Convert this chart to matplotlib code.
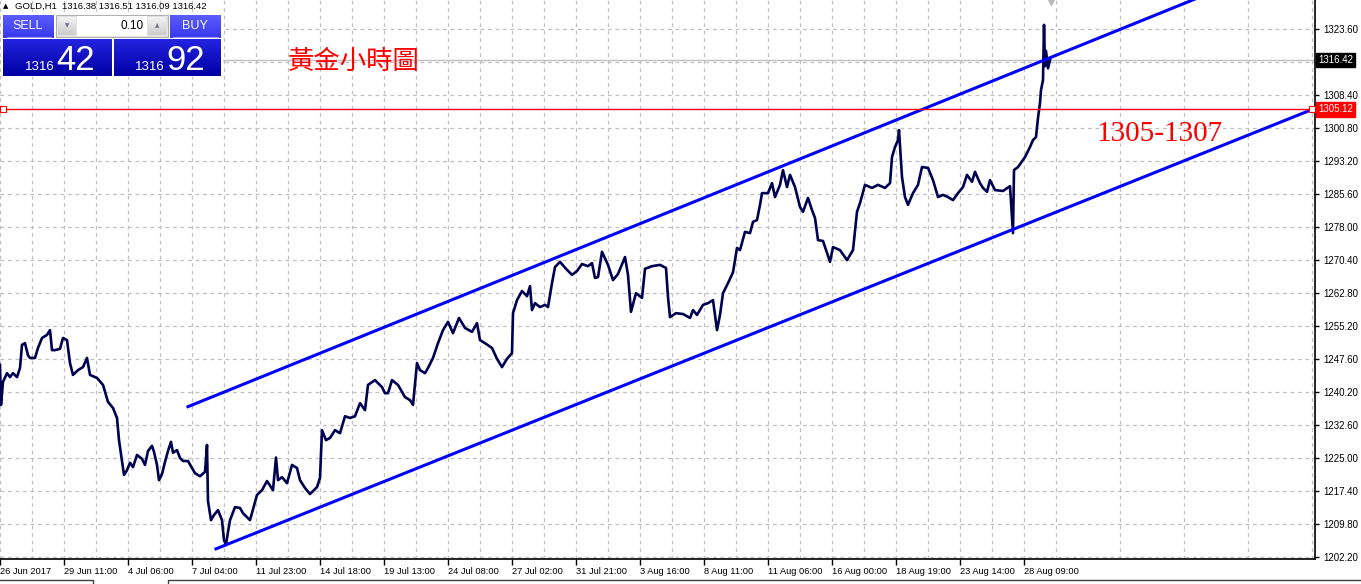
import numpy as np
import matplotlib
matplotlib.use('Agg')
import matplotlib.pyplot as plt

# hourly bar index (one pixel per bar) and price
bar_idx = [0, 1, 3, 7, 10, 13, 17, 20, 22, 25, 28, 30, 35, 38, 42, 47, 50, 52, 55, 60,
           63, 67, 70, 73, 78, 83, 87, 90, 97, 103, 108, 113, 117, 119, 122, 124, 127, 130, 133, 137,
           142, 145, 148, 152, 154, 157, 159, 162, 165, 168, 171, 173, 177, 180, 183, 188, 195, 200, 205, 207,
           208, 211, 214, 218, 222, 224, 226, 228, 230, 235, 240, 243, 250, 257, 262, 267, 273, 276, 278, 282,
           287, 292, 297, 300, 305, 310, 317, 320, 322, 326, 330, 335, 340, 345, 350, 355, 360, 365, 368, 375,
           382, 385, 388, 392, 398, 405, 410, 413, 417, 420, 425, 428, 433, 438, 443, 448, 453, 459, 465, 472,
           477, 480, 485, 492, 497, 502, 507, 512, 513, 517, 522, 527, 530, 532, 535, 540, 545, 548, 552, 555,
           560, 566, 572, 577, 582, 588, 592, 595, 598, 602, 608, 613, 618, 625, 628, 631, 636, 642, 645, 652,
           660, 666, 668, 670, 676, 683, 690, 693, 697, 703, 708, 713, 717, 720, 723, 728, 733, 737, 740, 745,
           750, 753, 757, 760, 762, 768, 772, 775, 780, 783, 787, 790, 795, 800, 803, 808, 812, 815, 818, 823,
           830, 833, 840, 847, 853, 857, 860, 865, 872, 878, 885, 890, 892, 895, 898, 899, 902, 905, 908, 913,
           918, 922, 928, 933, 938, 943, 948, 953, 958, 963, 967, 972, 975, 980, 983, 987, 990, 995, 1003, 1010,
           1013, 1014, 1018, 1025, 1030, 1033, 1036, 1038, 1040, 1041, 1043, 1044, 1045, 1046, 1048, 1050]
price = [1246.3, 1237.1, 1242.4, 1244.4, 1243.5, 1244.4, 1243.5, 1245.6, 1250.9, 1251.3, 1248.5, 1247.9, 1247.9, 1250.2, 1252.5, 1253.2, 1254.3, 1249.7, 1249.7, 1250.0,
         1252.5, 1252.0, 1246.7, 1244.0, 1245.1, 1245.8, 1247.9, 1244.0, 1243.3, 1241.7, 1237.8, 1236.4, 1234.1, 1229.0, 1224.2, 1221.0, 1222.1, 1223.8, 1222.8, 1225.6,
         1224.7, 1223.3, 1226.5, 1227.7, 1226.3, 1223.3, 1219.8, 1221.2, 1224.0, 1226.5, 1228.6, 1226.1, 1226.7, 1224.9, 1224.2, 1224.2, 1221.4, 1220.7, 1221.7, 1227.9,
         1215.0, 1210.6, 1211.8, 1212.9, 1210.6, 1206.0, 1204.9, 1207.9, 1210.6, 1213.6, 1213.4, 1212.2, 1210.6, 1216.4, 1217.5, 1219.6, 1217.5, 1225.0, 1219.8, 1220.5,
         1219.1, 1223.3, 1222.6, 1219.8, 1218.0, 1216.6, 1218.2, 1220.3, 1231.3, 1229.0, 1229.5, 1231.3, 1230.6, 1234.5, 1234.1, 1234.5, 1237.5, 1235.9, 1241.7, 1242.8,
         1241.2, 1239.8, 1239.8, 1242.8, 1241.7, 1238.9, 1238.2, 1237.1, 1246.7, 1245.1, 1244.4, 1245.6, 1247.9, 1251.3, 1254.3, 1256.2, 1253.6, 1257.1, 1254.8, 1253.9,
         1255.9, 1252.0, 1251.3, 1250.2, 1247.7, 1245.8, 1247.7, 1249.0, 1258.2, 1261.2, 1263.3, 1262.1, 1264.4, 1258.9, 1260.5, 1259.6, 1260.1, 1259.6, 1265.1, 1268.8,
         1270.0, 1268.4, 1267.0, 1267.9, 1269.5, 1269.0, 1269.7, 1266.3, 1266.5, 1272.3, 1269.3, 1265.8, 1267.2, 1271.1, 1267.0, 1258.5, 1262.8, 1261.7, 1268.4, 1269.0,
         1269.3, 1268.6, 1261.9, 1257.3, 1258.2, 1258.0, 1257.1, 1258.9, 1257.8, 1260.1, 1260.5, 1261.2, 1254.3, 1257.8, 1262.8, 1265.1, 1267.6, 1273.2, 1272.7, 1276.9,
         1276.6, 1279.2, 1279.6, 1283.1, 1285.8, 1285.8, 1288.1, 1284.9, 1287.7, 1291.1, 1287.2, 1290.0, 1287.2, 1282.6, 1281.5, 1284.7, 1281.9, 1280.1, 1275.0, 1274.8,
         1270.0, 1273.4, 1272.7, 1270.4, 1272.7, 1281.5, 1283.5, 1287.7, 1287.0, 1287.7, 1287.0, 1288.1, 1294.1, 1296.4, 1298.0, 1300.3, 1289.5, 1284.9, 1283.1, 1285.8,
         1287.7, 1291.8, 1291.6, 1288.8, 1284.9, 1285.4, 1284.9, 1284.2, 1285.8, 1287.2, 1290.0, 1288.4, 1290.7, 1288.1, 1287.0, 1286.1, 1288.8, 1286.5, 1286.3, 1287.4,
         1276.6, 1291.1, 1291.8, 1294.1, 1296.4, 1298.0, 1298.7, 1303.1, 1306.5, 1309.5, 1311.8, 1324.5, 1315.0, 1318.5, 1314.5, 1316.4]

# channel trend lines (start bar, start price, end bar, end price)
upper_x = [188, 1315]
upper_y = [1236.7, 1341.6]
lower_x = [216, 1315]
lower_y = [1204.0, 1305.3]

level_line = 1305.12
bid = 1316.42

price_labels = ['1202.20', '1209.80', '1217.40', '1225.00', '1232.60', '1240.20', '1247.60', '1255.20',
                '1262.80', '1270.40', '1278.00', '1285.60', '1293.20', '1300.80', '1308.40', '', '1323.60']
time_labels = ['26 Jun 2017', '29 Jun 11:00', '4 Jul 06:00', '7 Jul 04:00', '11 Jul 23:00', '14 Jul 18:00',
               '19 Jul 13:00', '24 Jul 08:00', '27 Jul 02:00', '31 Jul 21:00', '3 Aug 16:00', '8 Aug 11:00',
               '11 Aug 06:00', '16 Aug 00:00', '18 Aug 19:00', '23 Aug 14:00', '28 Aug 09:00']

W, H = 1361, 584
fig = plt.figure(figsize=(W / 100, H / 100), dpi=100)
fig.patch.set_facecolor('white')
ax = fig.add_axes([0, 25 / H, 1315 / W, 559 / H])
ax.set_xlim(0, 1315)
ax.set_ylim(1201.67, 1330.21)

ax.plot(bar_idx, price, color='#000050', lw=1.9, zorder=3)
ax.plot(upper_x, upper_y, color='#0000ff', lw=2.2, zorder=4)
ax.plot(lower_x, lower_y, color='#0000ff', lw=2.2, zorder=4)
ax.axhline(bid, color='#c0c0c0', lw=1, zorder=2)
ax.axhline(level_line, color='#ff0000', lw=1, zorder=4)
ax.plot([3, 1312], [level_line, level_line], ls='none', marker='s', ms=4,
        mfc='white', mec='#ff0000', mew=0.8, zorder=5, clip_on=False)

# grid / ticks
yt = np.linspace(1202.2, 1323.6, 17)
ax.set_yticks(yt)
ax.set_yticklabels(price_labels)
ax.yaxis.tick_right()
ax.set_xticks(np.arange(0, 1025, 64))
ax.set_xticklabels(time_labels, ha='left')
ax.set_xticks(np.arange(32, 1315, 64), minor=True)
ax.tick_params(axis='y', length=3, width=1, pad=3, labelsize=7, colors='black')
ax.tick_params(axis='x', which='major', length=4, width=1, pad=2, labelsize=6.7)
ax.tick_params(axis='x', which='minor', length=0)
for lab in ax.get_xticklabels() + ax.get_yticklabels():
    lab.set_family('Liberation Sans')
ax.grid(True, which='both', color='#c0c0c0', ls=(0, (3, 3)), lw=0.9)
ax.set_axisbelow(True)
for s in ['top', 'left']:
    ax.spines[s].set_visible(False)
for s in ['right', 'bottom']:
    ax.spines[s].set_linewidth(1.2)

# price tags on the right axis
ytr = ax.get_yaxis_transform()
ax.text(1.0 + 3 / 1315, bid, '1316.42', transform=ytr, color='white', fontsize=7, family='Liberation Sans',
        va='center', ha='left', clip_on=False,
        bbox=dict(boxstyle='square,pad=0.25', fc='black', ec='black'))
ax.text(1.0 + 3 / 1315, level_line, '1305.12', transform=ytr, color='white', fontsize=7, family='Liberation Sans',
        va='center', ha='left', clip_on=False,
        bbox=dict(boxstyle='square,pad=0.25', fc='#ff0000', ec='#ff0000'))

# annotations
ax.text(288, 1316.0, '黃金小時圖', color='#ff0000', fontsize=19,
        family=['Noto Sans CJK TC', 'DejaVu Sans'], va='center', ha='left')
ax.text(1096, 1299.5, '1305-1307', color='#ff0000', fontsize=21,
        family='Liberation Serif', va='center', ha='left')

# overlay in pixel coordinates for the trade panel
ov = fig.add_axes([0, 0, 1, 1])
ov.patch.set_alpha(0)
ov.axis('off')


def grad_rect(x0, y0, w, h, c_top, c_bot, z=10):
    g = np.linspace(0, 1, 40)[:, None, None]
    img = (1 - g) * np.array(c_top) + g * np.array(c_bot)
    ov.imshow(img, extent=(x0, x0 + w, y0 + h, y0), aspect='auto', zorder=z, interpolation='bilinear')


ov.text(3, 6, '\u25b2', fontsize=5, color='black', va='center', ha='left')
ov.text(15, 6, 'GOLD,H1  1316.38 1316.51 1316.09 1316.42', fontsize=6.8, family='Liberation Sans',
        color='black', va='center', ha='left')

# background of the panel
ov.add_patch(plt.Rectangle((1, 13), 222, 64, fc='white', ec='none', zorder=9))
grad_rect(3, 15, 51, 23, (0.36, 0.36, 1.0), (0.22, 0.22, 0.93))
grad_rect(170, 15, 51, 23, (0.36, 0.36, 1.0), (0.22, 0.22, 0.93))
ov.plot([7, 51], [36.5, 36.5], color='#9a9aff', lw=0.8, zorder=11)
ov.plot([173, 218], [36.5, 36.5], color='#9a9aff', lw=0.8, zorder=11)
ov.text(28, 26, 'SELL', color='white', fontsize=9, family='Liberation Sans', ha='center', va='center', zorder=12)
ov.text(195, 26, 'BUY', color='white', fontsize=9, family='Liberation Sans', ha='center', va='center', zorder=12)

ov.add_patch(plt.Rectangle((56, 15), 112, 22, fc='#e4e4e4', ec='#b0b0b0', lw=0.8, zorder=10))
ov.add_patch(plt.Rectangle((77, 16), 70, 20, fc='white', ec='none', zorder=11))
grad_rect(58, 17, 18, 18, (0.95, 0.95, 0.95), (0.80, 0.80, 0.80), z=11)
grad_rect(148, 17, 18, 18, (0.95, 0.95, 0.95), (0.80, 0.80, 0.80), z=11)
ov.text(67, 26, '\u25bc', fontsize=4, color='#6a6a9a', ha='center', va='center', zorder=12)
ov.text(157, 26, '\u25b2', fontsize=4, color='#6a6a9a', ha='center', va='center', zorder=12)
ov.text(144, 26, '0.10', color='black', fontsize=8.5, family='Liberation Sans', ha='right', va='center', zorder=12)

grad_rect(3, 39, 109, 37, (0.14, 0.14, 0.88), (0.0, 0.0, 0.64))
grad_rect(114, 39, 107, 37, (0.14, 0.14, 0.88), (0.0, 0.0, 0.64))
ov.text(55, 70, '1316', color='white', fontsize=9.5, family='Liberation Sans', ha='right', va='baseline', zorder=12)
ov.text(56, 70, '42', color='white', fontsize=25, family='Liberation Sans', ha='left', va='baseline', zorder=12)
ov.text(165, 70, '1316', color='white', fontsize=9.5, family='Liberation Sans', ha='right', va='baseline', zorder=12)
ov.text(166, 70, '92', color='white', fontsize=25, family='Liberation Sans', ha='left', va='baseline', zorder=12)

# little bid arrow at the top and the tab bar at the bottom
ov.plot([1051], [2], marker='v', ms=5, color='#b8b8b8', ls='none', zorder=12)
ov.plot([0, 93, 93], [580, 580, 584], color='#404040', lw=1, zorder=12)
ov.plot([168, 168, 1361], [584, 580, 580], color='#404040', lw=1, zorder=12)

ov.set_xlim(0, W)
ov.set_ylim(H, 0)

fig.savefig('out.png', dpi=100)
